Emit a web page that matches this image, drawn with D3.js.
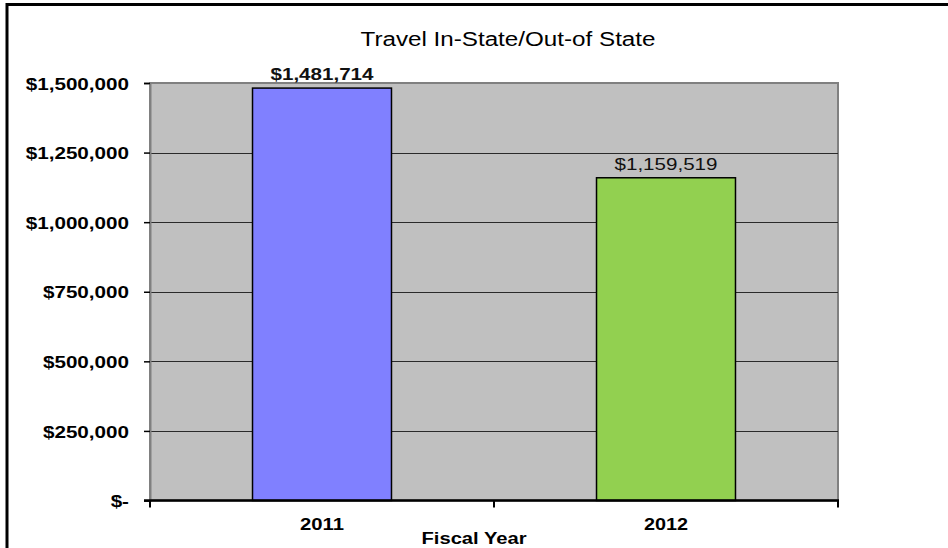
<!DOCTYPE html>
<html>
<head>
<meta charset="utf-8">
<script src="https://cdn.jsdelivr.net/npm/d3@7"></script>
<style>
  html, body { margin: 0; padding: 0; background: #fff; }
  svg text { font-family: "Liberation Sans", Arial, sans-serif; }
</style>
</head>
<body>
<svg id="chart" width="948" height="548"></svg>
<script>
// Travel spending by fiscal year
const categories = ["2011", "2012"];
const values = [1481714, 1159519];
const barColors = ["#8080FF", "#92D050"];
const yTickValues = [0, 250000, 500000, 750000, 1000000, 1250000, 1500000];
const yTickLabels = ["$-", "$250,000", "$500,000", "$750,000", "$1,000,000", "$1,250,000", "$1,500,000"];
const valueLabels = ["$1,481,714", "$1,159,519"];

const svg = d3.select("#chart");
const plot = { left: 150, right: 838, top: 83, bottom: 500.5 };

const x = d3.scaleBand()
  .domain(categories)
  .range([plot.left, plot.right])
  .paddingInner(0.596)
  .paddingOuter(0.298);

const y = d3.scaleLinear()
  .domain([0, 1500000])
  .range([plot.bottom, plot.top]);

// outer frame (left and top edges)
svg.append("path")
  .attr("d", "M7,548 V4.5 H948")
  .attr("fill", "none")
  .attr("stroke", "#000")
  .attr("stroke-width", 3);

// plot area
svg.append("rect")
  .attr("x", plot.left)
  .attr("y", plot.top)
  .attr("width", plot.right - plot.left)
  .attr("height", plot.bottom - plot.top)
  .attr("fill", "#C0C0C0")
  .attr("stroke", "#808080")
  .attr("stroke-width", 2);

// gridlines
svg.append("g")
  .selectAll("line")
  .data(yTickValues.slice(1, -1))
  .join("line")
  .attr("x1", plot.left)
  .attr("x2", plot.right)
  .attr("y1", d => Math.round(y(d)) + 0.5)
  .attr("y2", d => Math.round(y(d)) + 0.5)
  .attr("stroke", "#2a2a2a")
  .attr("stroke-width", 1);

// y axis
const yAxis = d3.axisLeft(y)
  .tickValues(yTickValues)
  .tickFormat((d, i) => yTickLabels[i])
  .tickSize(6)
  .tickPadding(16);

const gy = svg.append("g")
  .attr("transform", `translate(${plot.left},0)`)
  .call(yAxis);
gy.select(".domain").attr("stroke", "#808080").attr("stroke-width", 2);
gy.selectAll(".tick line").attr("stroke", "#000").attr("stroke-width", 1.5);
gy.selectAll(".tick text")
  .attr("font-size", 16)
  .attr("font-weight", "bold")
  .attr("fill", "#000")
  .attr("dy", "0.38em")
  .attr("x", -21)
  .attr("textLength", function () { return this.getComputedTextLength() * 1.29; })
  .attr("lengthAdjust", "spacingAndGlyphs");

// bars
svg.append("g")
  .selectAll("rect")
  .data(values)
  .join("rect")
  .attr("x", (d, i) => x(categories[i]))
  .attr("y", d => y(d))
  .attr("width", x.bandwidth())
  .attr("height", d => y(0) - y(d))
  .attr("fill", (d, i) => barColors[i])
  .attr("stroke", "#000")
  .attr("stroke-width", 1.5);

// value labels
svg.append("g")
  .selectAll("text")
  .data(values)
  .join("text")
  .attr("x", (d, i) => x(categories[i]) + x.bandwidth() / 2)
  .attr("y", d => y(d) - 8)
  .attr("text-anchor", "middle")
  .attr("font-size", 16)
  .attr("font-weight", (d, i) => i === 0 ? "bold" : "normal")
  .attr("fill", "#111")
  .text((d, i) => valueLabels[i])
  .attr("textLength", 103)
  .attr("lengthAdjust", "spacingAndGlyphs");

// x axis
const xAxis = d3.axisBottom(x)
  .tickSize(0)
  .tickPadding(18);

const gx = svg.append("g")
  .attr("transform", `translate(0,${plot.bottom})`)
  .call(xAxis);
gx.select(".domain").remove();
gx.append("line")
  .attr("x1", plot.left - 6)
  .attr("x2", plot.right + 1)
  .attr("stroke", "#000")
  .attr("stroke-width", 2.5);
// category boundary ticks
gx.selectAll(".boundary")
  .data([plot.left, (plot.left + plot.right) / 2, plot.right])
  .join("line")
  .attr("class", "boundary")
  .attr("x1", d => d)
  .attr("x2", d => d)
  .attr("y1", 0)
  .attr("y2", 7)
  .attr("stroke", "#000")
  .attr("stroke-width", 2);
gx.selectAll(".tick text")
  .attr("font-size", 16)
  .attr("font-weight", "bold")
  .attr("fill", "#000")
  .attr("textLength", 44)
  .attr("lengthAdjust", "spacingAndGlyphs");

// title
svg.append("text")
  .attr("x", 508)
  .attr("y", 46)
  .attr("text-anchor", "middle")
  .attr("font-size", 19.5)
  .attr("fill", "#000")
  .text("Travel In-State/Out-of State")
  .attr("textLength", 295)
  .attr("lengthAdjust", "spacingAndGlyphs");

// x axis title
svg.append("text")
  .attr("x", 474)
  .attr("y", 544)
  .attr("text-anchor", "middle")
  .attr("font-size", 16)
  .attr("font-weight", "bold")
  .attr("fill", "#000")
  .text("Fiscal Year")
  .attr("textLength", 105)
  .attr("lengthAdjust", "spacingAndGlyphs");
</script>
</body>
</html>
